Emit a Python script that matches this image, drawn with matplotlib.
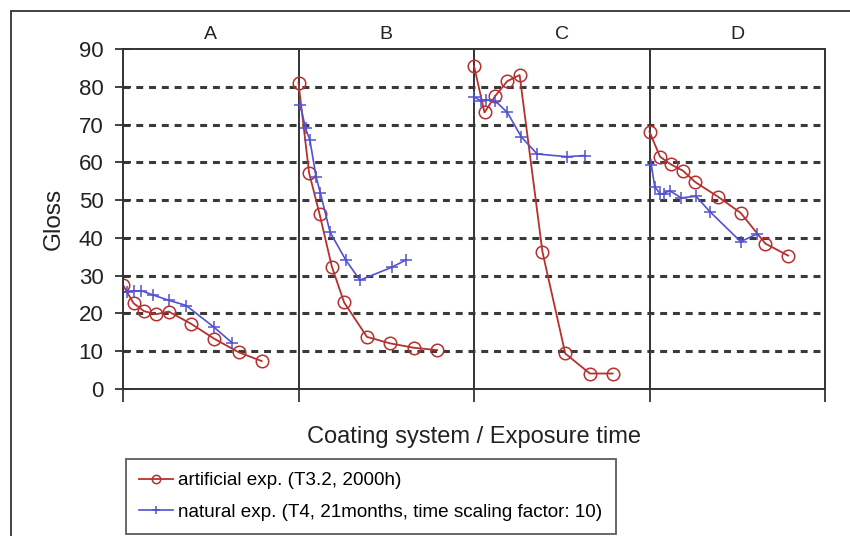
import matplotlib
matplotlib.use("Agg")
import matplotlib.pyplot as plt
from matplotlib.patches import Rectangle

plt.rcParams['font.family'] = ['Liberation Sans', 'DejaVu Sans']
plt.rcParams['lines.scale_dashes'] = False

# ---- data ----
panels = ["A", "B", "C", "D"]
art_time = [0.0, 0.06, 0.12, 0.19, 0.26, 0.39, 0.52, 0.66, 0.79]
art_A = [27.5, 22.7, 20.6, 19.8, 20.5, 17.2, 13.3, 9.7, 7.4]
art_B = [81.0, 57.3, 46.3, 32.4, 22.9, 13.8, 12.1, 10.9, 10.3]
art_C = [85.5, 73.2, 77.5, 81.5, 83.1, 36.3, 9.4, 4.1, 4.1]
art_D = [68.1, 61.5, 59.5, 57.8, 54.8, 50.9, 46.6, 38.5, 35.3]

nat_time_A = [0.0, 0.02, 0.06, 0.105, 0.17, 0.26, 0.36, 0.52, 0.62]
nat_A = [25.7, 25.7, 25.9, 26.0, 24.9, 23.5, 22.1, 16.3, 12.3]
nat_time_B = [0.01, 0.04, 0.065, 0.10, 0.125, 0.18, 0.27, 0.35, 0.53, 0.61]
nat_B = [75.3, 69.0, 65.9, 56.2, 51.8, 41.5, 34.1, 28.8, 32.2, 34.1]
nat_time_C = [0.0, 0.04, 0.07, 0.12, 0.19, 0.27, 0.36, 0.53, 0.63]
nat_C = [77.3, 76.3, 76.6, 76.3, 73.2, 66.7, 62.2, 61.5, 61.8]
nat_time_D = [0.01, 0.03, 0.06, 0.08, 0.115, 0.18, 0.265, 0.345, 0.52, 0.61]
nat_D = [59.4, 53.5, 51.7, 51.7, 52.5, 50.6, 51.0, 46.9, 39.0, 41.0]

art_series = [art_A, art_B, art_C, art_D]
nat_series = [(nat_time_A, nat_A), (nat_time_B, nat_B), (nat_time_C, nat_C), (nat_time_D, nat_D)]
y_ticks = [0, 10, 20, 30, 40, 50, 60, 70, 80, 90]

label_art = "artificial exp. (T3.2, 2000h)"
label_nat = "natural exp. (T4, 21months, time scaling factor: 10)"

RED = "#B5302E"
BLUE = "#5252D0"
DARK = "#333333"
TXT = "#222222"

W, H = 850, 536
fig = plt.figure(figsize=(W / 100, H / 100), dpi=100)
fig.patch.set_facecolor("white")

# outer frame (partially cropped like reference)
fig.patches.append(Rectangle((11 / W, -0.05), 1.1, 1 - 11 / H + 0.05, transform=fig.transFigure,
                             fill=False, edgecolor=DARK, linewidth=1.3))

ax = fig.add_axes([123 / W, 1 - 389 / H, (825 - 123) / W, (389 - 49) / H])
ax.set_xlim(0, 4)
ax.set_ylim(0, 90)

handles = []
for i in range(4):
    xs = [i + t for t in art_time]
    l1, = ax.plot(xs, art_series[i], color=RED, lw=1.3, marker='o', ms=9,
                  mfc='none', mec=RED, mew=1.1)
    nt, nv = nat_series[i]
    l2, = ax.plot([i + t for t in nt], nv, color=BLUE, lw=1.2, marker='+', ms=8,
                  mew=1.1)
    if i == 0:
        l1.set_label(label_art)
        l2.set_label(label_nat)
        handles = [l1, l2]

for i in range(1, 4):
    ax.axvline(i, color=DARK, lw=1.4, zorder=1)

ax.set_yticks(y_ticks)
ax.set_yticklabels([str(v) for v in y_ticks], fontsize=16, color=TXT)
ax.set_xticks([0, 1, 2, 3, 4])
ax.set_xticklabels([])
ax.tick_params(axis='y', direction='inout', length=12, width=1.3, color=DARK, pad=8)
ax.tick_params(axis='x', direction='out', length=9, width=1.3, color=DARK)
for s in ax.spines.values():
    s.set_color(DARK)
    s.set_linewidth(1.4)

for v in y_ticks[1:-1]:
    ax.axhline(v, color="#3a3a3a", lw=2.2, linestyle=(0, (5.0, 4.2)), zorder=0.5)

ax.set_ylabel("Gloss", fontsize=17.5, color=TXT, labelpad=10)
ax.set_xlabel("Coating system / Exposure time", fontsize=17, color=TXT, labelpad=14)

for i, p in enumerate(panels):
    ax.text(i + 0.5, 91.5, p, ha='center', va='bottom', fontsize=14, color=TXT)

leg = fig.legend(handles=handles, loc='upper left',
                 bbox_to_anchor=(126 / W, 1 - 459 / H), fontsize=13.6,
                 frameon=True, fancybox=False, handlelength=1.8, handletextpad=0.27,
                 borderpad=0.7, labelspacing=0.74, borderaxespad=0)
leg.get_frame().set_edgecolor(DARK)
leg.get_frame().set_linewidth(1.3)
for h in leg.legend_handles:
    h.set_markersize(6)

fig.savefig("out.png", dpi=100)
